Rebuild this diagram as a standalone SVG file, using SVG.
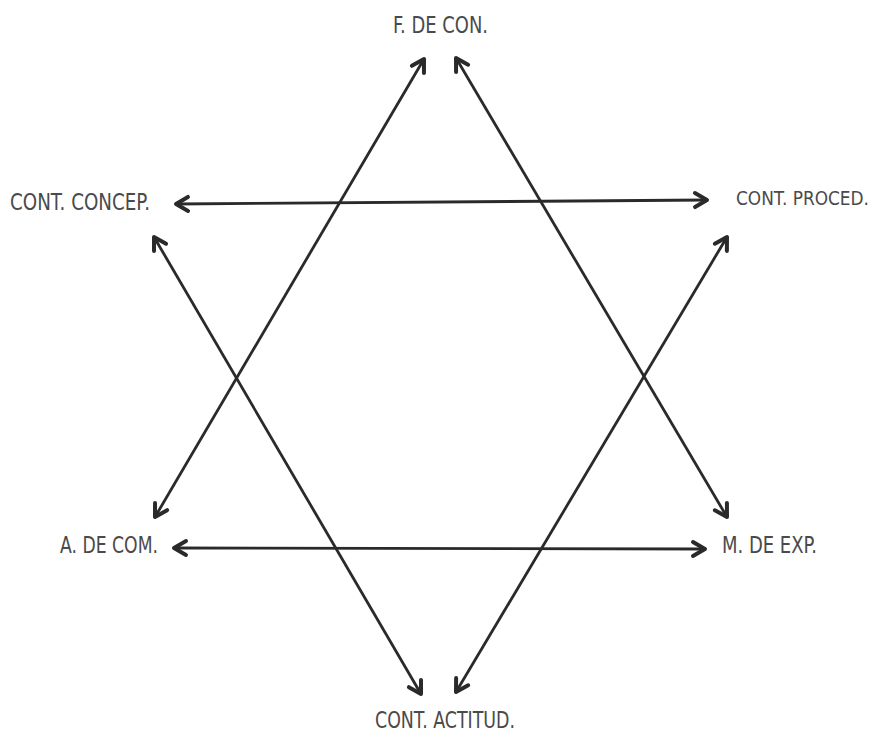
<svg xmlns="http://www.w3.org/2000/svg" width="881" height="733" viewBox="0 0 881 733">
<style>
.lbl{font-family:"Liberation Sans Narrow","DejaVu Sans Condensed","Liberation Sans",sans-serif;font-size:23px;fill:#4a4a4a}
.ln{stroke:#2a2a2a;stroke-width:2.8;fill:none;marker-start:url(#ah);marker-end:url(#ah)}
</style>
<defs>
<marker id="ah" markerUnits="userSpaceOnUse" viewBox="-16 -10 20 20" markerWidth="20" markerHeight="20" refX="0" refY="0" orient="auto-start-reverse">
<path d="M-12,-7 L0,0 L-12,7" fill="none" stroke="#2a2a2a" stroke-width="4" stroke-linecap="round" stroke-linejoin="round"/>
</marker>
</defs>
<rect width="881" height="733" fill="#fff"/>
<g id="connectors">
<line class="ln" x1="424" y1="59" x2="155" y2="517"/>
<line class="ln" x1="456" y1="58" x2="727" y2="517"/>
<line class="ln" x1="176" y1="204" x2="707" y2="200"/>
<line class="ln" x1="154" y1="237" x2="421" y2="694"/>
<line class="ln" x1="727" y1="237" x2="456" y2="692"/>
<line class="ln" x1="174" y1="548" x2="705" y2="549"/>
</g>
<g id="n-fdecon"><text class="lbl" x="393" y="33" textLength="95" lengthAdjust="spacingAndGlyphs">F. DE CON.</text></g>
<g id="n-contconcep"><text class="lbl" x="10" y="210" textLength="140" lengthAdjust="spacingAndGlyphs">CONT. CONCEP.</text></g>
<g id="n-contproced"><text class="lbl" x="736" y="205" style="font-size:20px" textLength="133" lengthAdjust="spacingAndGlyphs">CONT. PROCED.</text></g>
<g id="n-adecom"><text class="lbl" x="60" y="553" textLength="98" lengthAdjust="spacingAndGlyphs">A. DE COM.</text></g>
<g id="n-mdeexp"><text class="lbl" x="722" y="553" textLength="95" lengthAdjust="spacingAndGlyphs">M. DE EXP.</text></g>
<g id="n-contactitud"><text class="lbl" x="375" y="728" textLength="140" lengthAdjust="spacingAndGlyphs">CONT. ACTITUD.</text></g>
</svg>
